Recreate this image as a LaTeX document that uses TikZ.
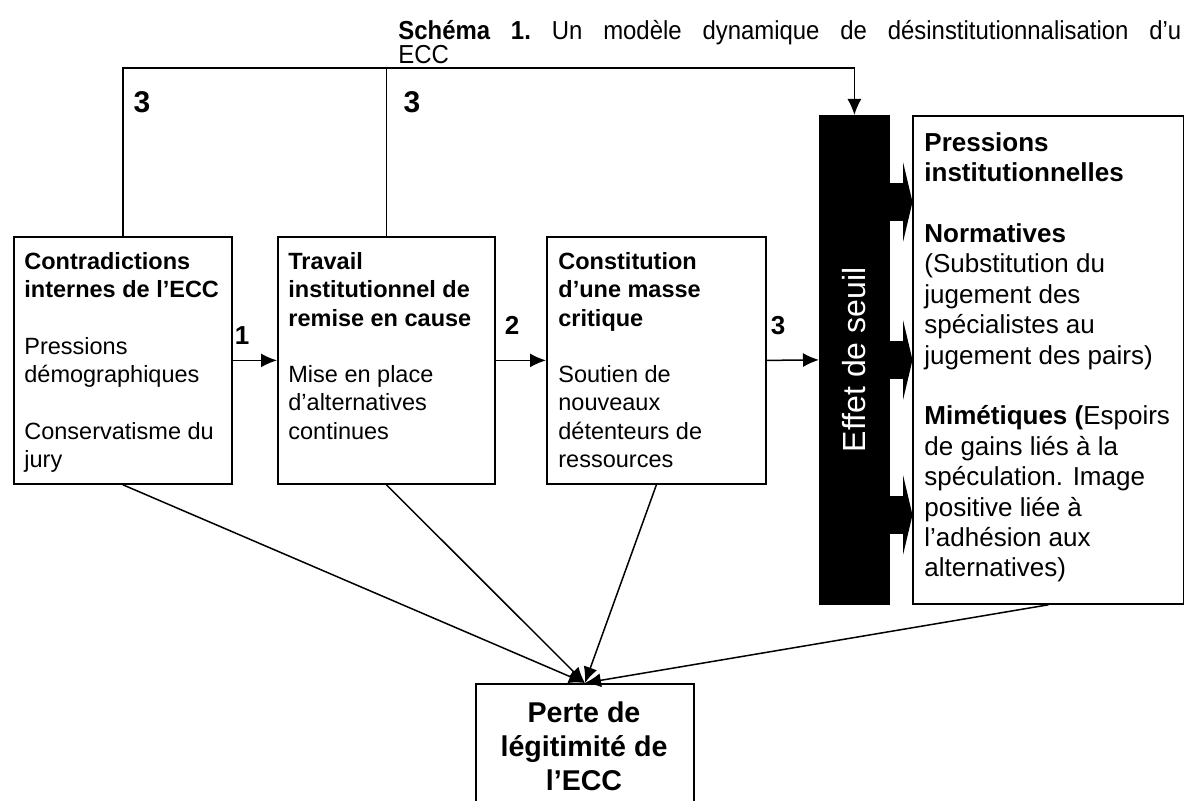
\documentclass[tikz,border=0pt]{standalone}
\usepackage{fontspec}
\setmainfont{Liberation Sans}
\newfontfamily\condfont[FakeStretch=0.92]{Liberation Sans}
\usetikzlibrary{arrows.meta}
\begin{document}
\begin{tikzpicture}[x=0.5pt,y=-0.5pt,
  box/.style={draw, line width=0.9pt, inner sep=0pt, anchor=north west},
  txt/.style={inner sep=0pt, anchor=north west, align=left, font=\fontsize{11.75}{14.15}\selectfont},
  rtxt/.style={inner sep=0pt, anchor=north west, align=left, font=\fontsize{13}{15.2}\selectfont},
  lab/.style={inner sep=0pt, font=\bfseries\fontsize{13}{15}\selectfont},
  toplab/.style={inner sep=0pt, font=\bfseries\fontsize{15}{17}\selectfont},
  ttl/.style={inner sep=0pt, anchor=base west, font=\condfont\fontsize{13}{15}\selectfont},
  arr/.style={-{Latex[length=8pt,width=7pt]}, line width=0.75pt},
  conn/.style={line width=0.75pt}]
\useasboundingbox (0,0) rectangle (1184,801);
% title
\node[ttl] (title1) at (398,40)
  {\frenchspacing\makebox[391.5pt][s]{\textbf{Schéma 1.} Un modèle dynamique de désinstitutionnalisation d’u}};
\node[ttl] (title2) at (398,64) {ECC};
% boxes
\node[box, minimum width=109pt, minimum height=123.5pt] (A) at (13,236) {};
\node[box, minimum width=108.5pt, minimum height=123.5pt] (B) at (277,236) {};
\node[box, minimum width=109.5pt, minimum height=123.5pt] (C) at (546,236) {};
\node[box, fill=black, minimum width=34.5pt, minimum height=244pt] (bar) at (819,115) {};
\node[rotate=90, text=white, inner sep=0pt, font=\fontsize{16}{18}\selectfont] (seuil) at (bar.center) {Effet de seuil};
% block arrows from the bar
\foreach \c in {202,360,515}{
  \fill (886,\c-19) rectangle (904,\c+19);
  \fill (903,\c-40) -- (912.5,\c) -- (903,\c+40) -- cycle;
}
\node[box, minimum width=135.5pt, minimum height=244pt] (R) at (912,115) {};
\node[box, fill=white, minimum width=109pt, minimum height=75pt] (P) at (475,683) {};
% texts
\node[txt] (tA) at (24,252) {\textbf{Contradictions}\\\textbf{internes de l’ECC}\\[14.15pt]Pressions\\démographiques\\[14.15pt]Conservatisme du\\jury};
\node[txt] (tB) at (288,252) {\textbf{Travail}\\\textbf{institutionnel de}\\\textbf{remise en cause}\\[14.15pt]Mise en place\\d’alternatives\\continues};
\node[txt] (tC) at (558,252) {\textbf{Constitution}\\\textbf{d’une masse}\\\textbf{critique}\\[14.15pt]Soutien de\\nouveaux\\détenteurs de\\ressources};
\node[rtxt] (tR) at (924,132) {\textbf{Pressions}\\\textbf{institutionnelles}\\[15.2pt]\textbf{Normatives}\\(Substitution du\\jugement des\\spécialistes au\\jugement des pairs)\\[15.2pt]\textbf{Mimétiques (}Espoirs\\de gains liés à la\\spéculation. Image\\positive liée à\\l’adhésion aux\\alternatives)};
\node[inner sep=0pt, anchor=north, align=center, font=\bfseries\fontsize{14.3}{17}\selectfont] (tP) at (584,701) {Perte de\\légitimité de\\l’ECC};
% labels
\node[toplab] (l3a) at (142,102) {3};
\node[toplab] (l3b) at (412,102) {3};
\node[lab] (l1) at (242,336) {1};
\node[lab] (l2) at (512,325) {2};
\node[lab] (l3c) at (778,326) {3};
% connectors
\coordinate (topy) at (0,68);
\draw[arr] (A.east) -- (B.west);
\draw[arr] (B.east) -- (C.west);
\draw[arr] (C.east) -- (bar.west);
\draw[arr] (A.north) |- (bar.north |- topy) -- (bar.north);
\draw[conn] (B.north) -- (B.north |- topy);
\draw[arr] (A.south) -- (P.north);
\draw[arr] (B.south) -- (P.north);
\draw[arr] (C.south) -- (P.north);
\draw[arr] (R.south) -- (P.north);
\end{tikzpicture}
\end{document}
